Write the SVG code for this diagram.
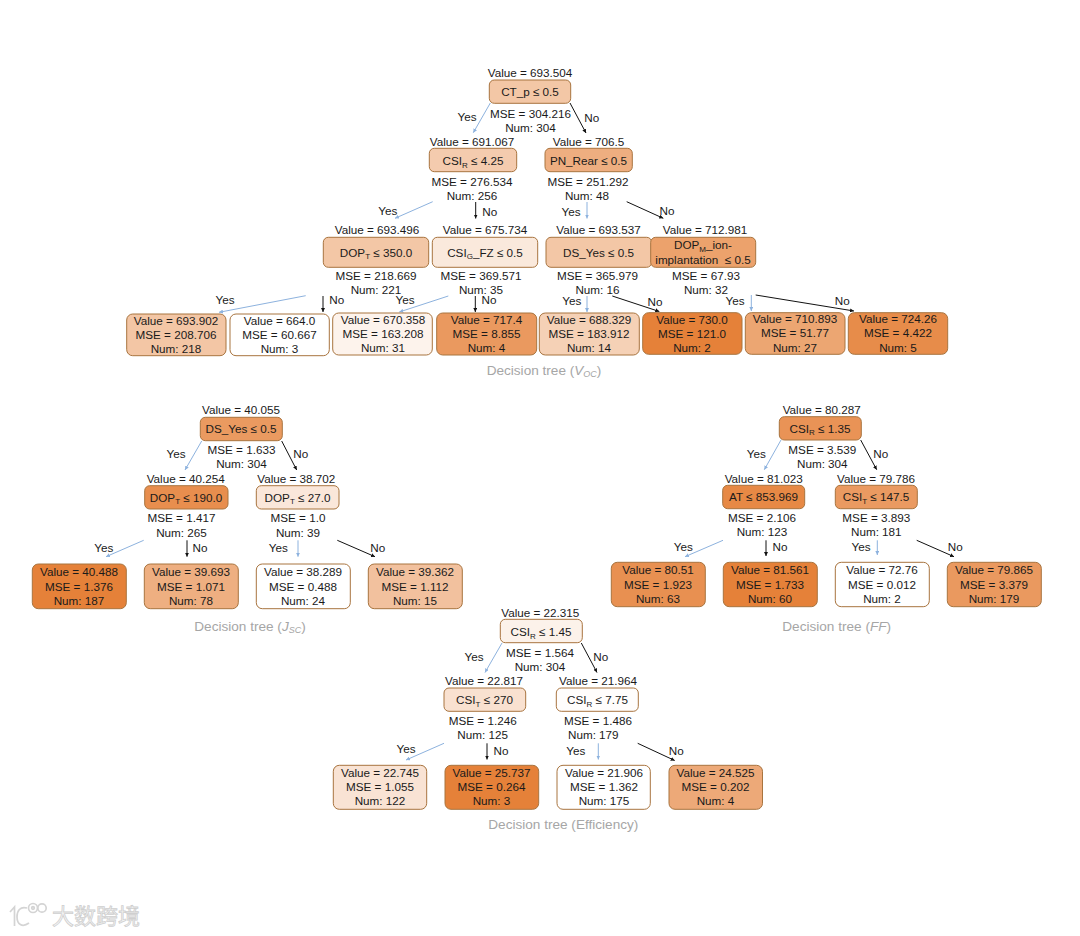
<svg xmlns="http://www.w3.org/2000/svg" width="1080" height="936" viewBox="0 0 1080 936">
<style>
text{font-family:"Liberation Sans",Arial,sans-serif;font-size:11.7px;fill:#1a1a1a;text-anchor:middle}
.n{stroke:#a8743f;stroke-width:1}
.s{font-size:8px}
.t{font-size:13.6px;fill:#a6a6a6}
.t .s{fill:#a6a6a6;font-style:italic;font-size:9px}
.i{font-style:italic;fill:#a6a6a6}
.y{stroke:#8db2de;stroke-width:1;fill:none;marker-end:url(#ay)}
.b{stroke:#111;stroke-width:1;fill:none;marker-end:url(#ab)}
.w{font-family:"Noto Sans CJK SC",sans-serif;font-size:22px;fill:#f6f6f6;stroke:#cfcfcf;stroke-width:.8;text-anchor:start}
.lg{fill:none;stroke:#d4d4d4;stroke-width:1.7}
</style>
<defs>
<marker id="ay" markerUnits="userSpaceOnUse" markerWidth="5" markerHeight="4" refX="4" refY="2" orient="auto"><path d="M0 0L4 2L0 4z" fill="#8db2de"/></marker>
<marker id="ab" markerUnits="userSpaceOnUse" markerWidth="5" markerHeight="4" refX="4" refY="2" orient="auto"><path d="M0 0L4 2L0 4z" fill="#111"/></marker>
</defs>
<rect width="1080" height="936" fill="#fff"/>

<g id="connectors">
<path class="y" d="M490.3 103L473.3 132.7"/><path class="b" d="M570 103L586 133"/>
<path class="y" d="M432.7 201.7L395 218.3"/><path class="b" d="M475.7 202V218.5"/>
<path class="y" d="M587 202V218.5"/><path class="b" d="M626.7 201.7L663.3 218.3"/>
<path class="y" d="M305.7 295.7L219 312.3"/><path class="b" d="M323 296V312"/>
<path class="y" d="M448.3 296L399.3 312"/><path class="b" d="M475.3 296V312"/>
<path class="y" d="M587 296V312"/><path class="b" d="M612.3 296L659.3 311.5"/>
<path class="y" d="M751.3 295V311"/><path class="b" d="M755.7 295L854 311"/>
<text x="467" y="121">Yes</text><text x="591.7" y="122">No</text>
<text x="387.7" y="215">Yes</text><text x="489.7" y="215.5">No</text>
<text x="571" y="216">Yes</text><text x="667" y="214.5">No</text>
<text x="225" y="304">Yes</text><text x="336.7" y="304">No</text>
<text x="405" y="304">Yes</text><text x="489" y="304">No</text>
<text x="571.7" y="304.5">Yes</text><text x="655" y="306">No</text>
<text x="735" y="304.5">Yes</text><text x="842.3" y="305">No</text>

<path class="y" d="M201.7 441L185 470"/><path class="b" d="M281.7 441L296.7 470"/>
<path class="y" d="M143.7 540.3L106 556.7"/><path class="b" d="M187 540.3V556.7"/>
<path class="y" d="M298 540.3V556.7"/><path class="b" d="M337.3 540.3L375 556.7"/>
<text x="176" y="458.3">Yes</text><text x="300.7" y="458.3">No</text>
<text x="103.7" y="552">Yes</text><text x="200" y="552">No</text>
<text x="278.3" y="552">Yes</text><text x="377.7" y="552">No</text>

<path class="y" d="M781 440L764.3 469.7"/><path class="b" d="M860.7 440L876.7 469.7"/>
<path class="y" d="M723 540.3L685 556.7"/><path class="b" d="M766 540.3V556"/>
<path class="y" d="M877.3 540.3V555"/><path class="b" d="M916.7 540.3L954 556.7"/>
<text x="756.3" y="457.7">Yes</text><text x="880.7" y="457.7">No</text>
<text x="683.3" y="551">Yes</text><text x="780" y="551">No</text>
<text x="861" y="551">Yes</text><text x="955.3" y="551">No</text>

<path class="y" d="M502 643L485 672.5"/><path class="b" d="M581.3 643L597 672.5"/>
<path class="y" d="M444 743.3L406 760"/><path class="b" d="M487 743.3V759.5"/>
<path class="y" d="M598.3 743.3V759.5"/><path class="b" d="M637.7 743.3L674.7 760.5"/>
<text x="474" y="661">Yes</text><text x="600.7" y="661">No</text>
<text x="406" y="753.3">Yes</text><text x="501" y="754.5">No</text>
<text x="575.7" y="754.5">Yes</text><text x="676.3" y="754.5">No</text>
</g>

<g id="voc-root"><rect class="n" x="489.3" y="80" width="81.4" height="23.3" rx="5" fill="#f3c7a6"/><text x="530" y="77">Value = 693.504</text><text x="530" y="96">CT_p ≤ 0.5</text><text x="530.5" y="118">MSE = 304.216</text><text x="530.5" y="132">Num: 304</text></g>
<g id="voc-csir"><rect class="n" x="429.3" y="148.3" width="87.4" height="23.4" rx="5" fill="#f4cbae"/><text x="472" y="146">Value = 691.067</text><text x="473" y="165">CSI<tspan class="s" dy="2.5">R</tspan><tspan dy="-2.5"> ≤ 4.25</tspan></text><text x="472" y="186">MSE = 276.534</text><text x="472" y="199.5">Num: 256</text></g>
<g id="voc-pn"><rect class="n" x="545" y="148.3" width="87.3" height="23.4" rx="5" fill="#eeae80"/><text x="588.5" y="146">Value = 706.5</text><text x="588.5" y="165">PN_Rear ≤ 0.5</text><text x="588" y="186">MSE = 251.292</text><text x="587" y="199.5">Num: 48</text></g>
<g id="voc-dopt"><rect class="n" x="323.3" y="237.3" width="105.4" height="30" rx="5" fill="#f3c7a6"/><text x="377" y="234">Value = 693.496</text><text x="376" y="256.7">DOP<tspan class="s" dy="2.5">T</tspan><tspan dy="-2.5"> ≤ 350.0</tspan></text><text x="376" y="280">MSE = 218.669</text><text x="376" y="294">Num: 221</text></g>
<g id="voc-csig"><rect class="n" x="432.3" y="237.3" width="105.4" height="30" rx="5" fill="#fae9dc"/><text x="485" y="234">Value = 675.734</text><text x="485" y="256.7">CSI<tspan class="s" dy="2.5">G</tspan><tspan dy="-2.5">_FZ ≤ 0.5</tspan></text><text x="481" y="280">MSE = 369.571</text><text x="481" y="294">Num: 35</text></g>
<g id="voc-ds"><rect class="n" x="546" y="237.3" width="105.7" height="30" rx="5" fill="#f3c7a6"/><text x="598.5" y="234">Value = 693.537</text><text x="598.5" y="256.5">DS_Yes ≤ 0.5</text><text x="597.5" y="280">MSE = 365.979</text><text x="597.5" y="294">Num: 16</text></g>
<g id="voc-dopm"><rect class="n" x="650.7" y="237.3" width="105" height="30" rx="5" fill="#eca26c"/><text x="705" y="234">Value = 712.981</text><text x="703" y="249">DOP<tspan class="s" dy="2.5">M</tspan><tspan dy="-2.5">_ion-</tspan></text><text x="703" y="263.5" xml:space="preserve">implantation  ≤ 0.5</text><text x="706" y="280">MSE = 67.93</text><text x="706" y="294">Num: 32</text></g>
<g id="voc-l1"><rect class="n" x="126.7" y="314" width="99.3" height="41.7" rx="6" fill="#f3c6a5"/><text x="176" y="324.5">Value = 693.902</text><text x="176" y="338.5">MSE = 208.706</text><text x="176" y="352.7">Num: 218</text></g>
<g id="voc-l2"><rect class="n" x="230" y="314" width="99.3" height="41.7" rx="6" fill="#fff"/><text x="279.5" y="324.5">Value = 664.0</text><text x="279.5" y="338.5">MSE = 60.667</text><text x="279.5" y="352.7">Num: 3</text></g>
<g id="voc-l3"><rect class="n" x="332.7" y="313" width="99.6" height="42" rx="6" fill="#fdf3ec"/><text x="383" y="324">Value = 670.358</text><text x="383" y="338">MSE = 163.208</text><text x="383" y="352.3">Num: 31</text></g>
<g id="voc-l4"><rect class="n" x="436.7" y="313" width="100" height="42" rx="6" fill="#ea995f"/><text x="486.5" y="324">Value = 717.4</text><text x="486.5" y="338">MSE = 8.855</text><text x="486.5" y="352.3">Num: 4</text></g>
<g id="voc-l5"><rect class="n" x="539.3" y="313" width="100" height="42" rx="6" fill="#f5d1b6"/><text x="589" y="324">Value = 688.329</text><text x="589" y="338">MSE = 183.912</text><text x="589" y="352.3">Num: 14</text></g>
<g id="voc-l6"><rect class="n" x="642.7" y="312.7" width="99.3" height="41.6" rx="6" fill="#e58139"/><text x="692" y="323.5">Value = 730.0</text><text x="692" y="337.5">MSE = 121.0</text><text x="692" y="352">Num: 2</text></g>
<g id="voc-l7"><rect class="n" x="745.3" y="312.7" width="99.7" height="41.6" rx="6" fill="#eca672"/><text x="795" y="323">Value = 710.893</text><text x="795" y="337">MSE = 51.77</text><text x="795" y="351.5">Num: 27</text></g>
<g id="voc-l8"><rect class="n" x="848.3" y="312.7" width="99.4" height="41.6" rx="6" fill="#e78c4a"/><text x="898" y="323">Value = 724.26</text><text x="898" y="337">MSE = 4.422</text><text x="898" y="351.5">Num: 5</text></g>
<text id="voc-title" class="t" x="544" y="374.5">Decision tree (<tspan class="i">V</tspan><tspan class="s" dy="2.5">OC</tspan><tspan dy="-2.5">)</tspan></text>

<g id="jsc-root"><rect class="n" x="200.3" y="417.3" width="82" height="23.4" rx="5" fill="#ea9a60"/><text x="241" y="414">Value = 40.055</text><text x="241" y="433.3">DS_Yes ≤ 0.5</text><text x="241.5" y="454.3">MSE = 1.633</text><text x="241.5" y="468.3">Num: 304</text></g>
<g id="jsc-a"><rect class="n" x="144.7" y="485.7" width="83.3" height="23.3" rx="5" fill="#e88e4e"/><text x="185.7" y="483">Value = 40.254</text><text x="186" y="501.7">DOP<tspan class="s" dy="2.5">T</tspan><tspan dy="-2.5"> ≤ 190.0</tspan></text><text x="181.5" y="522.3">MSE = 1.417</text><text x="181.5" y="536.7">Num: 265</text></g>
<g id="jsc-b"><rect class="n" x="256.3" y="485.7" width="82.7" height="23.3" rx="5" fill="#fae7da"/><text x="296.3" y="483">Value = 38.702</text><text x="297.5" y="501.7">DOP<tspan class="s" dy="2.5">T</tspan><tspan dy="-2.5"> ≤ 27.0</tspan></text><text x="298" y="522.3">MSE = 1.0</text><text x="298" y="536.7">Num: 39</text></g>
<g id="jsc-l1"><rect class="n" x="32.3" y="564" width="94" height="44.7" rx="6" fill="#e58139"/><text x="79" y="576">Value = 40.488</text><text x="79" y="590.5">MSE = 1.376</text><text x="79" y="604.7">Num: 187</text></g>
<g id="jsc-l2"><rect class="n" x="144.3" y="564" width="94" height="44.7" rx="6" fill="#eeaf81"/><text x="191" y="576">Value = 39.693</text><text x="191" y="590.5">MSE = 1.071</text><text x="191" y="604.7">Num: 78</text></g>
<g id="jsc-l3"><rect class="n" x="256.3" y="564" width="94" height="44.7" rx="6" fill="#fff"/><text x="303" y="576">Value = 38.289</text><text x="303" y="590.5">MSE = 0.488</text><text x="303" y="604.7">Num: 24</text></g>
<g id="jsc-l4"><rect class="n" x="368.3" y="564" width="94" height="44.7" rx="6" fill="#f2c19e"/><text x="415" y="576">Value = 39.362</text><text x="415" y="590.5">MSE = 1.112</text><text x="415" y="604.7">Num: 15</text></g>
<text id="jsc-title" class="t" x="250" y="630.5">Decision tree (<tspan class="i">J</tspan><tspan class="s" dy="2.5">SC</tspan><tspan dy="-2.5">)</tspan></text>

<g id="ff-root"><rect class="n" x="779.3" y="416.7" width="82" height="23.3" rx="5" fill="#e99356"/><text x="821.7" y="413.7">Value = 80.287</text><text x="820" y="432.7">CSI<tspan class="s" dy="2.5">R</tspan><tspan dy="-2.5"> ≤ 1.35</tspan></text><text x="822.3" y="453.7">MSE = 3.539</text><text x="822.3" y="467.7">Num: 304</text></g>
<g id="ff-a"><rect class="n" x="722.7" y="485.3" width="82" height="23.4" rx="5" fill="#e78945"/><text x="763.7" y="482.7">Value = 81.023</text><text x="763.5" y="501.3">AT ≤ 853.969</text><text x="762" y="522">MSE = 2.106</text><text x="762" y="536">Num: 123</text></g>
<g id="ff-b"><rect class="n" x="835.3" y="485.3" width="82" height="23.4" rx="5" fill="#ea9a61"/><text x="876" y="482.7">Value = 79.786</text><text x="876" y="501.3">CSI<tspan class="s" dy="2.5">T</tspan><tspan dy="-2.5"> ≤ 147.5</tspan></text><text x="876.3" y="522">MSE = 3.893</text><text x="876.3" y="536">Num: 181</text></g>
<g id="ff-l1"><rect class="n" x="611.3" y="562.3" width="94" height="44.4" rx="6" fill="#e89051"/><text x="658" y="574">Value = 80.51</text><text x="658" y="588.7">MSE = 1.923</text><text x="658" y="603">Num: 63</text></g>
<g id="ff-l2"><rect class="n" x="723.3" y="562.3" width="94" height="44.4" rx="6" fill="#e58139"/><text x="770" y="574">Value = 81.561</text><text x="770" y="588.7">MSE = 1.733</text><text x="770" y="603">Num: 60</text></g>
<g id="ff-l3"><rect class="n" x="835.3" y="562.3" width="94" height="44.4" rx="6" fill="#fff"/><text x="882" y="574">Value = 72.76</text><text x="882" y="588.7">MSE = 0.012</text><text x="882" y="603">Num: 2</text></g>
<g id="ff-l4"><rect class="n" x="947.3" y="562.3" width="94" height="44.4" rx="6" fill="#ea995f"/><text x="994" y="574">Value = 79.865</text><text x="994" y="588.7">MSE = 3.379</text><text x="994" y="603">Num: 179</text></g>
<text id="ff-title" class="t" x="836.7" y="630.5">Decision tree (<tspan class="i">FF</tspan>)</text>

<g id="eff-root"><rect class="n" x="500.3" y="619.3" width="82" height="23.4" rx="5" fill="#fcf2ea"/><text x="540.3" y="616.7">Value = 22.315</text><text x="541" y="636">CSI<tspan class="s" dy="2.5">R</tspan><tspan dy="-2.5"> ≤ 1.45</tspan></text><text x="540" y="657">MSE = 1.564</text><text x="540" y="671">Num: 304</text></g>
<g id="eff-a"><rect class="n" x="444" y="688" width="81.7" height="23.3" rx="5" fill="#f9e1d0"/><text x="484" y="685.3">Value = 22.817</text><text x="484.5" y="704">CSI<tspan class="s" dy="2.5">T</tspan><tspan dy="-2.5"> ≤ 270</tspan></text><text x="482.7" y="725">MSE = 1.246</text><text x="482.7" y="739">Num: 125</text></g>
<g id="eff-b"><rect class="n" x="556.3" y="688" width="82" height="23.3" rx="5" fill="#fffdfc"/><text x="598" y="685.3">Value = 21.964</text><text x="597.5" y="704">CSI<tspan class="s" dy="2.5">R</tspan><tspan dy="-2.5"> ≤ 7.75</tspan></text><text x="598" y="725">MSE = 1.486</text><text x="593.3" y="739">Num: 179</text></g>
<g id="eff-l1"><rect class="n" x="333.3" y="765.3" width="93.4" height="44" rx="6" fill="#f9e3d4"/><text x="380" y="776.7">Value = 22.745</text><text x="380" y="791.3">MSE = 1.055</text><text x="380" y="805">Num: 122</text></g>
<g id="eff-l2"><rect class="n" x="445" y="765.3" width="93.7" height="44" rx="6" fill="#e58139"/><text x="491.5" y="776.7">Value = 25.737</text><text x="491.5" y="791.3">MSE = 0.264</text><text x="491.5" y="805">Num: 3</text></g>
<g id="eff-l3"><rect class="n" x="557" y="765.3" width="93.3" height="44" rx="6" fill="#fff"/><text x="604" y="776.7">Value = 21.906</text><text x="604" y="791.3">MSE = 1.362</text><text x="604" y="805">Num: 175</text></g>
<g id="eff-l4"><rect class="n" x="669" y="765.3" width="93.5" height="44" rx="6" fill="#eda978"/><text x="715.5" y="776.7">Value = 24.525</text><text x="715.5" y="791.3">MSE = 0.202</text><text x="715.5" y="805">Num: 4</text></g>
<text id="eff-title" class="t" x="563.3" y="829">Decision tree (Efficiency)</text>

<g id="watermark">
<path class="lg" d="M10 912L14.500 907V926M27 908C20 906 17 911 17 917C17 924 22 928 29 923"/>
<circle class="lg" cx="33" cy="908" r="4.500"/><circle class="lg" cx="42" cy="908" r="4.200"/><circle class="lg" cx="33" cy="908" r="1.300"/>
<text class="w" x="52" y="924">大数跨境</text>
</g>
</svg>
